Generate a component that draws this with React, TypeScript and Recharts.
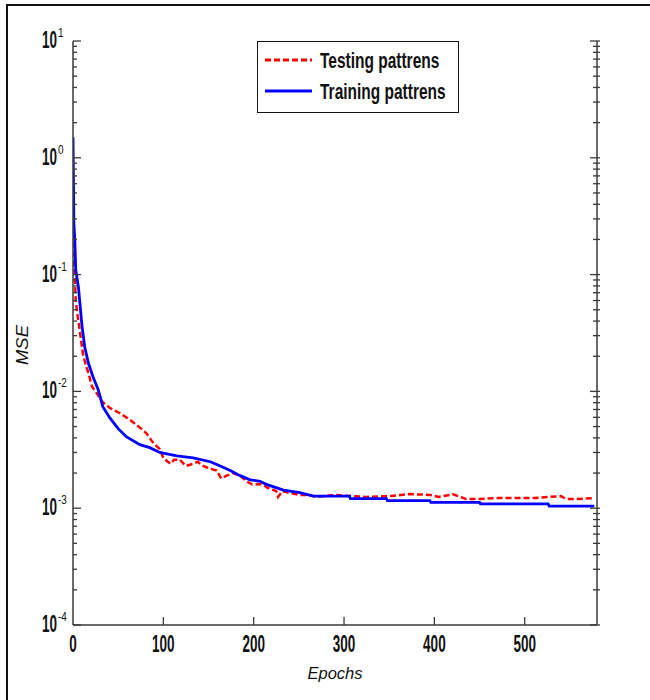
import { LineChart, Line, XAxis, YAxis, Legend } from 'recharts';

// epochs / MSE
const testEpochs = [0, 1, 2, 3, 5, 8, 11, 14, 17, 21, 26, 32, 41, 52, 63, 70, 81, 89, 96, 100, 105, 108, 112, 118, 125, 133, 138, 144, 150, 159, 164, 170, 177, 185, 192, 198, 203, 210, 215, 225, 227, 232, 240, 251, 260, 270, 288, 300, 325, 350, 373, 395, 405, 417, 420, 435, 450, 470, 491, 510, 528, 540, 546, 560, 577];
const testMse = [0.27, 0.12, 0.1, 0.06, 0.045, 0.031, 0.021, 0.017, 0.0144, 0.011, 0.0097, 0.0082, 0.0072, 0.0065, 0.0057, 0.0052, 0.0044, 0.0036, 0.0032, 0.0027, 0.0025, 0.0024, 0.0026, 0.0026, 0.0023, 0.0024, 0.0025, 0.0023, 0.0022, 0.0021, 0.0018, 0.0019, 0.002, 0.0019, 0.0017, 0.0016, 0.0016, 0.0016, 0.0015, 0.0014, 0.00125, 0.0014, 0.00135, 0.0013, 0.0013, 0.00125, 0.0013, 0.00128, 0.00125, 0.00127, 0.00132, 0.0013, 0.00125, 0.0013, 0.00132, 0.0012, 0.0012, 0.00122, 0.00122, 0.00122, 0.00125, 0.00127, 0.0012, 0.0012, 0.00122];

const trainEpochs = [0, 1, 2, 3, 6, 10, 13, 17, 22, 28, 33, 41, 50, 59, 74, 85, 96, 115, 133, 152, 163, 174, 185, 196, 207, 214, 233, 251, 266, 306, 307, 347, 348, 395, 396, 450, 451, 526, 527, 577];
const trainMse = [1.5, 0.27, 0.2, 0.11, 0.078, 0.036, 0.024, 0.0175, 0.0134, 0.0103, 0.0074, 0.0059, 0.0048, 0.0041, 0.0035, 0.0033, 0.003, 0.0028, 0.0027, 0.0025, 0.0023, 0.0021, 0.0019, 0.00175, 0.0017, 0.0016, 0.00143, 0.00136, 0.00127, 0.00127, 0.00121, 0.00121, 0.00116, 0.00116, 0.00112, 0.00112, 0.00109, 0.00109, 0.00104, 0.00104];

const xTicks = [0, 100, 200, 300, 400, 500];
const decades = [1e-4, 1e-3, 1e-2, 1e-1, 1, 10];
const minorSteps = [2, 3, 4, 5, 6, 7, 8, 9];

const testData = testEpochs.map((e, i) => ({ epoch: e, mse: testMse[i] }));
const trainData = trainEpochs.map((e, i) => ({ epoch: e, mse: trainMse[i] }));

const yTicks: number[] = [];
decades.forEach((d, i) => {
  yTicks.push(d);
  if (i < decades.length - 1) minorSteps.forEach((m) => yTicks.push(d * m));
});

const isMajor = (v: number) => Math.abs(Math.log10(v) - Math.round(Math.log10(v))) < 1e-9;

const FONT = "'Liberation Sans', Arial, sans-serif";
const AXIS = '#3a3a3a';

// the reference text is drawn tall and narrow, so stretch it vertically
const Tall = ({ x, y, sy, anchor, children, ...rest }: any) => (
  <g transform={`translate(${x} ${y}) scale(1 ${sy})`}>
    <text x={0} y={0} textAnchor={anchor || 'start'} fontFamily={FONT} fill="#111" {...rest}>{children}</text>
  </g>
);

const LeftTick = ({ x, y, payload }: any) => {
  const v = payload.value;
  const major = isMajor(v);
  const exp = Math.round(Math.log10(v));
  return (
    <g>
      <line x1={x} x2={x + (major ? 8 : 4)} y1={y} y2={y} stroke={AXIS} strokeWidth={1.3} />
      {major && (
        <>
          <Tall x={x - 16} y={y + 7} sy={1.72} anchor="end" fontWeight="bold" fontSize={13.5}>10</Tall>
          <Tall x={x - 15} y={y - 4} sy={1.3} fontSize={10}>{exp}</Tall>
        </>
      )}
    </g>
  );
};

const RightTick = ({ x, y, payload }: any) => {
  const major = isMajor(payload.value);
  return <line x1={x - (major ? 7 : 4)} x2={x + 3} y1={y} y2={y} stroke={AXIS} strokeWidth={1.3} />;
};

const BottomTick = ({ x, y, payload }: any) => (
  <g>
    {payload.value !== 0 && <line x1={x} x2={x} y1={y} y2={y - 8} stroke={AXIS} strokeWidth={1.3} />}
    <Tall x={x} y={y + 27} sy={1.72} anchor="middle" fontWeight="bold" fontSize={13.5}>{String(payload.value)}</Tall>
  </g>
);

const TopTick = ({ x, y, payload }: any) =>
  payload.value === 0 ? <g /> : <line x1={x} x2={x} y1={y} y2={y + 8} stroke={AXIS} strokeWidth={1.3} />;

const EpochsLabel = ({ viewBox }: any) => (
  <text x={viewBox.x + viewBox.width / 2} y={viewBox.y + 54} textAnchor="middle" fontFamily={FONT} fontStyle="italic" fontSize={16.5} fill="#111">Epochs</text>
);

const MseLabel = ({ viewBox }: any) => {
  const cx = 22;
  const cy = viewBox.y + viewBox.height / 2 + 12;
  return (
    <text x={cx} y={cy} transform={`rotate(-90 ${cx} ${cy})`} textAnchor="middle" dominantBaseline="central" fontFamily={FONT} fontStyle="italic" fontSize={17} textLength={40} lengthAdjust="spacingAndGlyphs" fill="#111">MSE</text>
  );
};

const LegendBox = ({ payload }: any) => (
  <svg width={202} height={72} style={{ display: 'block' }}>
    <rect x={0.5} y={0.5} width={201} height={71} fill="#fff" stroke="#111" strokeWidth={1} />
    {(payload || []).map((entry: any, i: number) => {
      const cy = 19 + i * 31;
      const dashed = entry.payload && entry.payload.strokeDasharray;
      return (
        <g key={entry.value}>
          <line x1={8} x2={55} y1={cy} y2={cy} stroke={entry.color} strokeWidth={2.8} strokeDasharray={dashed || undefined} />
          <Tall x={63} y={cy + 8} sy={1.43} fontWeight="bold" fontSize={15.5}>{entry.value}</Tall>
        </g>
      );
    })}
  </svg>
);

export default function App() {
  return (
    <div style={{ position: 'absolute', left: 0, top: 0, width: 650, height: 700, background: '#fff', overflow: 'hidden' }}>
      <div style={{ position: 'absolute', left: 6, top: 4, width: 660, height: 710, borderLeft: '2px solid #111', borderTop: '2px solid #111' }} />
      <LineChart width={650} height={700} margin={{ top: 41, right: 0, bottom: 0, left: 0 }}>
        <XAxis xAxisId="bottom" dataKey="epoch" type="number" domain={[0, 580]} ticks={xTicks} interval={0}
          height={75} tickSize={0} tickMargin={0} tick={<BottomTick />} axisLine={{ stroke: AXIS, strokeWidth: 1.5 }}
          label={<EpochsLabel />} allowDataOverflow />
        <XAxis xAxisId="top" orientation="top" dataKey="epoch" type="number" domain={[0, 580]} ticks={xTicks} interval={0}
          height={0} tickSize={0} tickMargin={0} tick={<TopTick />} axisLine={{ stroke: AXIS, strokeWidth: 2 }} allowDataOverflow />
        <YAxis yAxisId="left" type="number" scale="log" domain={[1e-4, 10]} ticks={yTicks} interval={0}
          width={73} tickSize={0} tickMargin={0} tick={<LeftTick />} axisLine={{ stroke: AXIS, strokeWidth: 1.5 }}
          label={<MseLabel />} allowDataOverflow />
        <YAxis yAxisId="right" orientation="right" type="number" scale="log" domain={[1e-4, 10]} ticks={yTicks} interval={0}
          width={53} tickSize={0} tickMargin={0} tick={<RightTick />} axisLine={{ stroke: AXIS, strokeWidth: 1.5 }} allowDataOverflow />
        <Line xAxisId="bottom" yAxisId="left" data={testData} dataKey="mse" name="Testing pattrens" type="linear"
          stroke="#ff0000" strokeWidth={2.5} strokeDasharray="6 3" dot={false} isAnimationActive={false} />
        <Line xAxisId="bottom" yAxisId="left" data={trainData} dataKey="mse" name="Training pattrens" type="linear"
          stroke="#0000ff" strokeWidth={2.8} dot={false} isAnimationActive={false} />
        <Legend layout="vertical" align="center" verticalAlign="middle" content={<LegendBox />}
          wrapperStyle={{ position: 'absolute', left: 257, top: 41, width: 202, height: 72 }} />
      </LineChart>
    </div>
  );
}
